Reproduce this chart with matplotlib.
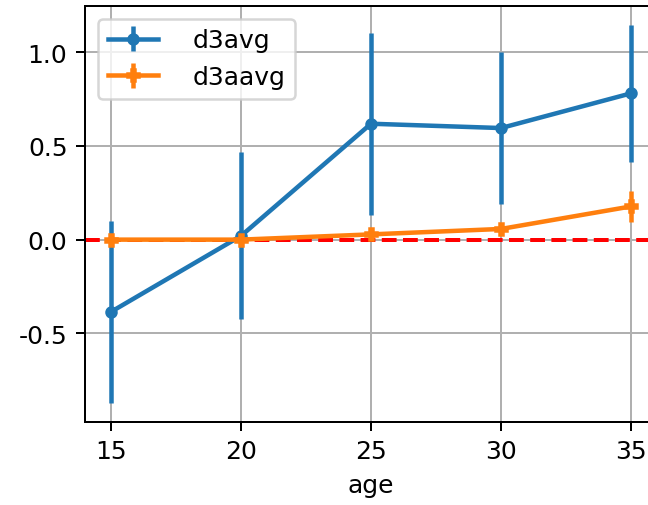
import numpy as np
import matplotlib
matplotlib.use('Agg')
import matplotlib.pyplot as plt

plt.rcParams['axes.unicode_minus'] = False

age = [15, 20, 25, 30, 35]
d3avg = [-0.385, 0.02, 0.618, 0.595, 0.78]
d3avg_err = [0.485, 0.445, 0.485, 0.405, 0.365]
d3aavg = [0.0, 0.0, 0.028, 0.057, 0.177]
d3aavg_err = [0.005, 0.005, 0.015, 0.025, 0.083]

fig = plt.figure(figsize=(3.6, 506 / 180), dpi=180)
ax = fig.add_axes([85 / 648, 83.3 / 506, 572 / 648, 415.7 / 506])

ax.errorbar(age, d3avg, yerr=d3avg_err, marker='o', ms=4, lw=1.8,
            label='d3avg', zorder=3)
ax.errorbar(age, d3aavg, yerr=d3aavg_err, marker='P', ms=4.5, lw=1.8,
            label='d3aavg', zorder=3)
ax.axhline(0, color='r', linestyle='--', lw=1.6, zorder=2.5)

ax.grid(True)
ax.set_xlabel('age')
ax.legend(loc='upper left', handletextpad=1.4)

fig.savefig('out.png', dpi=180)
